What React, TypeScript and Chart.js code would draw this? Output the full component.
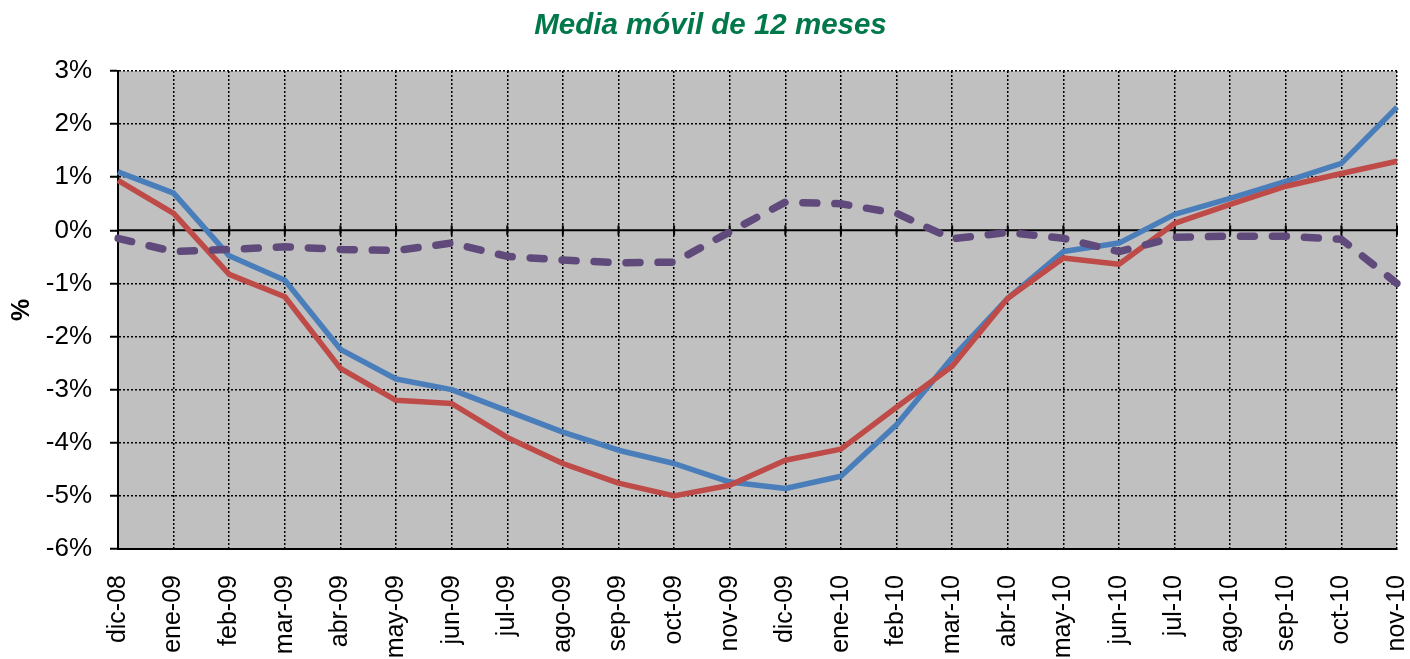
import React, { useEffect, useRef } from "react";
import { Chart, registerables } from "chart.js";

Chart.register(...registerables);

const categories = [
  "dic-08", "ene-09", "feb-09", "mar-09", "abr-09", "may-09", "jun-09", "jul-09",
  "ago-09", "sep-09", "oct-09", "nov-09", "dic-09", "ene-10", "feb-10", "mar-10",
  "abr-10", "may-10", "jun-10", "jul-10", "ago-10", "sep-10", "oct-10", "nov-10",
];

const blueSeries = [
  1.1, 0.7, -0.48, -0.94, -2.24, -2.8, -3.0, -3.4,
  -3.8, -4.14, -4.39, -4.74, -4.86, -4.63, -3.66, -2.4,
  -1.28, -0.4, -0.24, 0.3, 0.6, 0.92, 1.26, 2.32,
];

const redSeries = [
  0.94, 0.32, -0.83, -1.25, -2.6, -3.2, -3.26, -3.9,
  -4.39, -4.76, -5.0, -4.8, -4.33, -4.12, -3.33, -2.56,
  -1.28, -0.52, -0.64, 0.13, 0.49, 0.83, 1.07, 1.3,
];

const purpleSeries = [
  -0.15, -0.4, -0.36, -0.31, -0.36, -0.38, -0.24, -0.49,
  -0.56, -0.61, -0.6, -0.03, 0.53, 0.5, 0.32, -0.16,
  -0.04, -0.15, -0.4, -0.13, -0.11, -0.11, -0.17, -1.0,
];

const yTickValues = [3, 2, 1, 0, -1, -2, -3, -4, -5, -6];

const FONT = "'Liberation Sans', Arial, sans-serif";

const plotBackground = {
  id: "plotBackground",
  beforeDraw(chart: any) {
    const { ctx, chartArea } = chart;
    ctx.save();
    ctx.fillStyle = "#C0C0C0";
    ctx.fillRect(chartArea.left, chartArea.top, chartArea.right - chartArea.left, chartArea.bottom - chartArea.top);
    ctx.restore();
  },
};

const zeroLine = {
  id: "zeroLine",
  beforeDatasetsDraw(chart: any) {
    const { ctx, chartArea, scales } = chart;
    const y0 = scales.y.getPixelForValue(0);
    ctx.save();
    ctx.strokeStyle = "#000";
    ctx.lineWidth = 2;
    ctx.setLineDash([]);
    ctx.beginPath();
    ctx.moveTo(chartArea.left, y0);
    ctx.lineTo(chartArea.right, y0);
    ctx.stroke();
    for (let i = 0; i < categories.length; i++) {
      const x = scales.x.getPixelForValue(i);
      ctx.beginPath();
      ctx.moveTo(x, y0 - 5);
      ctx.lineTo(x, y0 + 5);
      ctx.stroke();
    }
    ctx.restore();
  },
};

export default function App() {
  const ref = useRef<HTMLCanvasElement | null>(null);

  useEffect(() => {
    document.body.style.margin = "0";
    const canvas = ref.current;
    if (!canvas) return;
    const chart = new Chart(canvas, {
      type: "line",
      data: {
        labels: categories,
        datasets: [
          {
            label: "C",
            data: purpleSeries,
            borderColor: "#604A7B",
            borderWidth: 7.5,
            borderDash: [14, 18],
            borderCapStyle: "round",
            borderJoinStyle: "round",
            pointRadius: 0,
            tension: 0,
            fill: false,
          },
          {
            label: "B",
            data: redSeries,
            borderColor: "#BE4B48",
            borderWidth: 5.5,
            borderJoinStyle: "round",
            pointRadius: 0,
            tension: 0,
            fill: false,
          },
          {
            label: "A",
            data: blueSeries,
            borderColor: "#4A7EBB",
            borderWidth: 5.5,
            borderJoinStyle: "round",
            pointRadius: 0,
            tension: 0,
            fill: false,
          },
        ],
      },
      options: {
        animation: false,
        responsive: false,
        devicePixelRatio: 1,
        layout: { padding: { left: 24, right: 13, top: 0, bottom: 0 } },
        plugins: {
          legend: { display: false },
          tooltip: { enabled: false },
          title: {
            display: true,
            text: "Media móvil de 12 meses",
            color: "#00784A",
            font: { family: FONT, size: 29.5, weight: "bold", style: "italic", lineHeight: 1.2 },
            padding: { top: 8, bottom: 27.6 },
          },
        },
        scales: {
          x: {
            type: "category",
            offset: false,
            grid: {
              display: true,
              color: "#000",
              lineWidth: 1.5,
              drawTicks: false,
            },
            border: { display: true, color: "#000", width: 2, dash: [2, 2] },
            ticks: {
              autoSkip: false,
              maxRotation: 90,
              minRotation: 90,
              padding: 26,
              color: "#000",
              font: { family: FONT, size: 25 },
            },
            afterFit(scale: any) {
              scale.height = 110;
              scale.paddingLeft = 0;
              scale.paddingRight = 0;
            },
          },
          y: {
            type: "linear",
            min: -6,
            max: 3,
            afterBuildTicks(scale: any) {
              scale.ticks = yTickValues.map((v) => ({ value: v }));
            },
            grid: {
              display: true,
              color: (c: any) => (c.tick && c.tick.value === 0 ? "rgba(0,0,0,0)" : "#000"),
              lineWidth: 1.5,
              drawTicks: true,
              tickLength: 8,
              tickColor: "#000",
              tickWidth: 2,
              tickBorderDash: [],
            },
            border: { display: true, color: "#000", width: 2, dash: [2, 2] },
            ticks: {
              padding: 18,
              color: "#000",
              font: { family: FONT, size: 26 },
              callback: (v: any) => v + "%",
            },
            title: {
              display: true,
              text: "%",
              color: "#000",
              font: { family: FONT, size: 25, weight: "bold", lineHeight: 1.2 },
              padding: { top: -17, bottom: 0 },
            },
            afterFit(scale: any) {
              scale.width = 94;
              scale.paddingTop = 0;
              scale.paddingBottom = 0;
            },
          },
        },
      },
      plugins: [plotBackground, zeroLine],
    } as any);
    return () => chart.destroy();
  }, []);

  return (
    <div style={{ position: "absolute", left: 0, top: 0, width: 1410, height: 659 }}>
      <canvas ref={ref} width={1410} height={659} style={{ display: "block" }} />
    </div>
  );
}
